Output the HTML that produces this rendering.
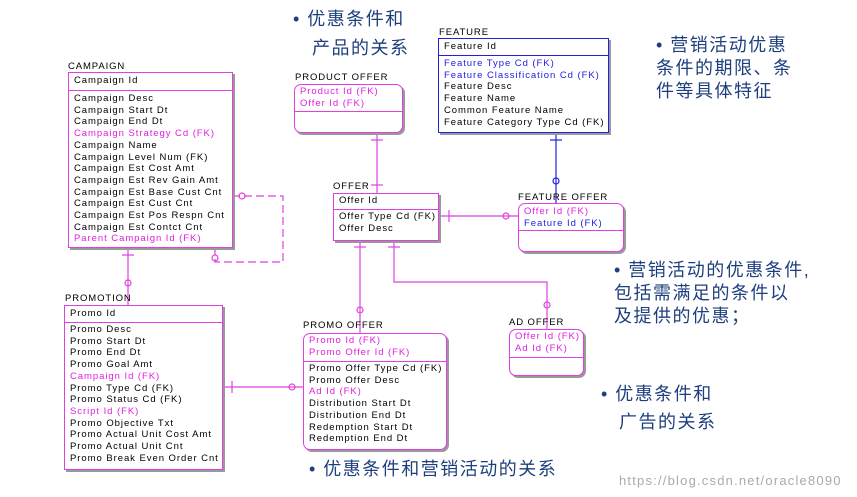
<!DOCTYPE html>
<html><head><meta charset="utf-8"><style>
body{margin:0;width:857px;height:497px;background:#fff;position:relative;overflow:hidden;font-family:"Liberation Sans",sans-serif}
.l{position:absolute;font-size:9.5px;letter-spacing:0.9px;color:#000;white-space:nowrap;line-height:11px}
.b{position:absolute;border:1px solid #e040e0;box-shadow:2px 2px 0 #999;background:#fff}
.r{border-radius:7px}
.t{position:absolute;font-size:9.5px;letter-spacing:0.95px;white-space:nowrap;line-height:11.7px;left:5px}
.s{position:absolute;left:0;right:0;border-top:1px solid #e040e0}
.m{color:#e020e0}.bl{color:#2020e0}
.c{position:absolute;font-family:"Liberation Sans","Noto Sans CJK SC",sans-serif;font-size:18px;letter-spacing:1.5px;color:#1e3f7e;white-space:nowrap;line-height:20px}
</style></head><body>
<svg width="857" height="497" style="position:absolute;left:0;top:0">
<g stroke="#e040e0" stroke-width="1.2" fill="none">
<line x1="377" y1="131" x2="377" y2="193"/><line x1="371" y1="140" x2="383" y2="140"/><line x1="371" y1="185" x2="383" y2="185"/>
<line x1="438" y1="216" x2="518" y2="216"/><line x1="449" y1="210" x2="449" y2="222"/><circle cx="506" cy="216" r="3"/>
<line x1="360" y1="239" x2="360" y2="333"/><line x1="354" y1="247" x2="366" y2="247"/><circle cx="360" cy="310" r="3"/>
<polyline points="394,239 394,282 547,282 547,329"/><line x1="388" y1="247" x2="400" y2="247"/><circle cx="547" cy="305" r="3"/>
<line x1="128" y1="246" x2="128" y2="305"/><line x1="122" y1="255" x2="134" y2="255"/><circle cx="128" cy="283" r="3"/>
<line x1="222" y1="387" x2="303" y2="387"/><line x1="232" y1="381" x2="232" y2="393"/><circle cx="292" cy="387" r="3"/>
<polyline points="232,196 283,196 283,262 215,262 215,246" stroke-dasharray="8,4"/><circle cx="242" cy="196" r="3"/><circle cx="215" cy="258" r="3"/>
</g>
<g stroke="#2020e0" stroke-width="1.2" fill="none">
<line x1="556" y1="131" x2="556" y2="203"/><line x1="550" y1="140" x2="562" y2="140"/><circle cx="556" cy="181" r="3"/>
</g>
</svg>
<div class="l" style="left:68px;top:61px">CAMPAIGN</div>
<div class="b" style="left:68px;top:72px;width:163px;height:174px">
<div class="t" style="top:2px">Campaign Id</div><div class="s" style="top:17px"></div>
<div class="t" style="top:20px">Campaign Desc<br>Campaign Start Dt<br>Campaign End Dt<br><span class="m">Campaign Strategy Cd (FK)</span><br>Campaign Name<br>Campaign Level Num (FK)<br>Campaign Est Cost Amt<br>Campaign Est Rev Gain Amt<br>Campaign Est Base Cust Cnt<br>Campaign Est Cust Cnt<br>Campaign Est Pos Respn Cnt<br>Campaign Est Contct Cnt<br><span class="m">Parent Campaign Id (FK)</span></div></div>
<div class="l" style="left:65px;top:293px">PROMOTION</div>
<div class="b" style="left:64px;top:305px;width:157px;height:163px">
<div class="t" style="top:2px">Promo Id</div><div class="s" style="top:16px"></div>
<div class="t" style="top:18px">Promo Desc<br>Promo Start Dt<br>Promo End Dt<br>Promo Goal Amt<br><span class="m">Campaign Id (FK)</span><br>Promo Type Cd (FK)<br>Promo Status Cd (FK)<br><span class="m">Script Id (FK)</span><br>Promo Objective Txt<br>Promo Actual Unit Cost Amt<br>Promo Actual Unit Cnt<br>Promo Break Even Order Cnt</div></div>
<div class="l" style="left:295px;top:72px">PRODUCT OFFER</div>
<div class="b r" style="left:294px;top:84px;width:107px;height:47px">
<div class="t m" style="top:1px">Product Id (FK)<br>Offer Id (FK)</div><div class="s" style="top:26px"></div></div>
<div class="l" style="left:439px;top:27px">FEATURE</div>
<div class="b" style="left:438px;top:38px;width:169px;height:93px;border-color:#2020e0">
<div class="t" style="top:2px">Feature Id</div><div class="s" style="top:16px;border-color:#2020e0"></div>
<div class="t" style="top:19px"><span class="bl">Feature Type Cd (FK)</span><br><span class="bl">Feature Classification Cd (FK)</span><br>Feature Desc<br>Feature Name<br>Common Feature Name<br>Feature Category Type Cd (FK)</div></div>
<div class="l" style="left:333px;top:181px">OFFER</div>
<div class="b" style="left:333px;top:193px;width:104px;height:46px">
<div class="t" style="top:1px">Offer Id</div><div class="s" style="top:15px"></div>
<div class="t" style="top:17px">Offer Type Cd (FK)<br>Offer Desc</div></div>
<div class="l" style="left:518px;top:192px">FEATURE OFFER</div>
<div class="b r" style="left:518px;top:203px;width:104px;height:47px">
<div class="t" style="top:2px"><span class="m">Offer Id (FK)</span><br><span class="bl">Feature Id (FK)</span></div><div class="s" style="top:26px"></div></div>
<div class="l" style="left:303px;top:320px">PROMO OFFER</div>
<div class="b r" style="left:303px;top:333px;width:142px;height:115px">
<div class="t m" style="top:1px">Promo Id (FK)<br>Promo Offer Id (FK)</div><div class="s" style="top:27px"></div>
<div class="t" style="top:29px">Promo Offer Type Cd (FK)<br>Promo Offer Desc<br><span class="m">Ad Id (FK)</span><br>Distribution Start Dt<br>Distribution End Dt<br>Redemption Start Dt<br>Redemption End Dt</div></div>
<div class="l" style="left:509px;top:317px">AD OFFER</div>
<div class="b r" style="left:509px;top:329px;width:73px;height:45px">
<div class="t m" style="top:1px">Offer Id (FK)<br>Ad Id (FK)</div><div class="s" style="top:27px"></div></div>
<div class="c" style="left:293px;top:9px">• 优惠条件和</div>
<div class="c" style="left:312px;top:38px">产品的关系</div>
<div class="c" style="left:656px;top:35px">• 营销活动优惠</div>
<div class="c" style="left:656px;top:58px">条件的期限、条</div>
<div class="c" style="left:656px;top:81px">件等具体特征</div>
<div class="c" style="left:614px;top:260px">• 营销活动的优惠条件,</div>
<div class="c" style="left:614px;top:283px">包括需满足的条件以</div>
<div class="c" style="left:614px;top:306px">及提供的优惠；</div>
<div class="c" style="left:601px;top:384px">• 优惠条件和</div>
<div class="c" style="left:619px;top:412px">广告的关系</div>
<div class="c" style="left:309px;top:459px">• 优惠条件和营销活动的关系</div>
<div style="position:absolute;left:619px;top:473px;font-size:13px;letter-spacing:1.2px;color:#aaa;font-family:'Liberation Sans',sans-serif">https://blog.csdn.net/oracle8090</div>
</body></html>
